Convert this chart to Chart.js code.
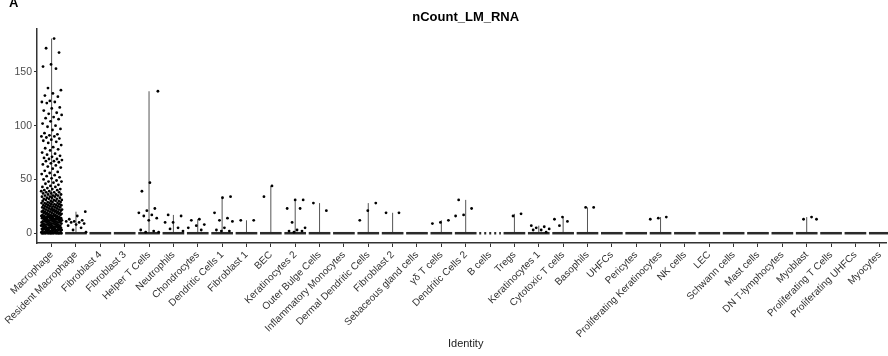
<!DOCTYPE html>
<html>
<head>
<meta charset="utf-8">
<script src="https://cdn.jsdelivr.net/npm/chart.js@4.4.1/dist/chart.umd.min.js"></script>
<style>
html, body { margin: 0; padding: 0; background: #fff; }
</style>
</head>
<body>
<canvas id="vln" width="888" height="356"></canvas>
<script>
// Categorias del eje x (Identity)
const identities = [
  'Macrophage', 'Resident Macrophage', 'Fibroblast 4', 'Fibroblast 3', 'Helper T Cells',
  'Neutrophils', 'Chondrocytes', 'Dendritic Cells 1', 'Fibroblast 1', 'BEC',
  'Keratinocytes 2', 'Outer Bulge Cells', 'Inflammatory Monocytes', 'Dermal Dendritic Cells', 'Fibroblast 2',
  'Sebaceous gland cells', 'γδ T cells', 'Dendritic Cells 2', 'B cells', 'Tregs',
  'Keratinocytes 1', 'Cytotoxic T cells', 'Basophils', 'UHFCs', 'Pericytes',
  'Proliferating Keratinocytes', 'NK cells', 'LEC', 'Schwann cells', 'Mast cells',
  'DN T-lymphocytes', 'Myoblast', 'Proliferating T Cells', 'Proliferating UHFCs', 'Myocytes'
];

const yTickValues = [0, 50, 100, 150];

// nCount_LM_RNA por celula
const macrophageCounts = [
  181, 172, 168, 157, 155, 153, 135, 133, 130, 128, 127, 123, 122, 122, 121, 117, 116, 114, 112, 111,
  110, 108, 107, 106, 104, 102, 100, 99, 97, 96, 93, 92, 91, 90, 90, 89, 88, 87, 86, 85,
  84, 82, 80, 79, 78, 77, 75, 74, 73, 72, 71, 70, 69, 69, 68, 67, 67, 66, 65, 64,
  63, 62, 61, 60, 58, 57, 56, 55, 54, 53, 52, 51, 50, 49, 48, 48, 47, 46, 45, 44,
  43, 43, 42, 41, 41, 40, 40, 39, 39, 38, 38, 38, 37, 37, 36, 36, 36, 35, 35, 35,
  34, 34, 34, 33, 33, 33, 32, 32, 32, 31, 31, 31, 30, 30, 30, 30, 29, 29, 29, 28,
  28, 28, 28, 27, 27, 27, 27, 26, 26, 26, 26, 25, 25, 25, 25, 24, 24, 24, 24, 23,
  23, 23, 23, 22, 22, 22, 22, 22, 21, 21, 21, 21, 21, 20, 20, 20, 20, 20, 19, 19,
  19, 19, 19, 18, 18, 18, 18, 18, 17, 17, 17, 17, 17, 16, 16, 16, 16, 16, 16, 15,
  15, 15, 15, 15, 15, 14, 14, 14, 14, 14, 14, 13, 13, 13, 13, 13, 13, 12, 12, 12,
  12, 12, 12, 11, 11, 11, 11, 11, 11, 10, 10, 10, 10, 10, 10, 9, 9, 9, 9, 9,
  9, 8, 8, 8, 8, 8, 8, 7, 7, 7, 7, 7, 7, 6, 6, 6, 6, 6, 6, 5,
  5, 5, 5, 5, 5, 4, 4, 4, 4, 4, 4, 3, 3, 3, 3, 3, 3, 2, 2, 2,
  2, 2, 2, 1, 1, 1, 1, 1, 1, 0, 0, 0, 0, 0, 0, 0, 0, 0, 0, 0
];
const residentMacrophageCounts = [20, 16, 13, 12, 11, 11, 10, 10, 9, 8, 7, 5, 3, 1];
const helperTCounts = [132, 47, 39, 23, 21, 19, 17, 16, 14, 12, 3, 2, 1, 1];
const neutrophilCounts = [17, 16, 10, 10, 5, 4, 2];
const chondrocyteCounts = [13, 12, 8, 7, 5, 3];
const dendritic1Counts = [34, 33, 19, 14, 12, 11, 5, 3, 2, 2];
const fibroblast1Counts = [12, 12];
const becCounts = [44, 34];
const keratinocytes2Counts = [31, 31, 23, 23, 10, 5, 3, 2, 2, 1];
const outerBulgeCounts = [28, 21];
const dermalDendriticCounts = [28, 21, 12];
const fibroblast2Counts = [19, 19];
const gdTCounts = [12, 10, 9];
const dendritic2Counts = [31, 23, 17, 16];
const tregCounts = [18, 16];
const keratinocytes1Counts = [7, 6, 5, 4, 3, 3, 1];
const cytotoxicTCounts = [15, 13, 11, 7];
const basophilCounts = [24, 24];
const prolifKeratinocyteCounts = [15, 14, 13];
const myoblastCounts = [15, 13, 13];

const countsByIdentity = {
  'Macrophage': macrophageCounts,
  'Resident Macrophage': residentMacrophageCounts,
  'Helper T Cells': helperTCounts,
  'Neutrophils': neutrophilCounts,
  'Chondrocytes': chondrocyteCounts,
  'Dendritic Cells 1': dendritic1Counts,
  'Fibroblast 1': fibroblast1Counts,
  'BEC': becCounts,
  'Keratinocytes 2': keratinocytes2Counts,
  'Outer Bulge Cells': outerBulgeCounts,
  'Dermal Dendritic Cells': dermalDendriticCounts,
  'Fibroblast 2': fibroblast2Counts,
  'γδ T cells': gdTCounts,
  'Dendritic Cells 2': dendritic2Counts,
  'Tregs': tregCounts,
  'Keratinocytes 1': keratinocytes1Counts,
  'Cytotoxic T cells': cytotoxicTCounts,
  'Basophils': basophilCounts,
  'Proliferating Keratinocytes': prolifKeratinocyteCounts,
  'Myoblast': myoblastCounts
};

// desplazamiento horizontal fijo (jitter) para que los puntos no se tapen
function jitter(k) {
  return (((k + 1) * 0.6180339887) % 1 - 0.5) * 0.86;
}

var puntos = [];
identities.forEach(function (name, i) {
  (countsByIdentity[name] || []).forEach(function (v, k) {
    puntos.push({ x: i + 1 + jitter(k + i * 7), y: v });
  });
});

// Plugin: violines (barra en cero + linea hasta el maximo)
const violinPlugin = {
  id: 'violines',
  beforeDatasetsDraw: function (chart) {
    var c = chart.ctx;
    var xs = chart.scales.x, ys = chart.scales.y;
    var y0 = ys.getPixelForValue(0);
    c.save();
    identities.forEach(function (name, i) {
      var vals = countsByIdentity[name] || [];
      var maxV = vals.length ? Math.max.apply(null, vals) : 0;
      var xc = xs.getPixelForValue(i + 1);
      if (maxV > 0) {
        c.beginPath();
        c.strokeStyle = '#555';
        c.lineWidth = 1;
        c.moveTo(xc, y0);
        c.lineTo(xc, ys.getPixelForValue(maxV));
        c.stroke();
      }
      c.beginPath();
      c.strokeStyle = '#2a2a2a';
      c.lineWidth = 2.5;
      c.setLineDash(name === 'B cells' ? [2, 3] : []);
      c.moveTo(xs.getPixelForValue(i + 1 - 0.445), y0);
      c.lineTo(xs.getPixelForValue(i + 1 + 0.445), y0);
      c.stroke();
      c.setLineDash([]);
    });
    c.restore();
  },
  afterDraw: function (chart) {
    var c = chart.ctx;
    var xs = chart.scales.x;
    c.save();
    c.fillStyle = '#000';
    c.textAlign = 'center';
    c.textBaseline = 'alphabetic';
    c.font = 'bold 13px "Liberation Sans", Arial, sans-serif';
    c.fillText('nCount_LM_RNA', xs.getPixelForValue(18), 21);
    c.font = '11px "Liberation Sans", Arial, sans-serif';
    c.fillStyle = '#222';
    c.fillText('Identity', xs.getPixelForValue(18), 347);
    c.textAlign = 'left';
    c.fillStyle = '#000';
    c.font = 'bold 13px "Liberation Sans", Arial, sans-serif';
    c.fillText('A', 9, 7);
    c.restore();
  }
};

var ctx = document.getElementById('vln').getContext('2d');
var grafico = new Chart(ctx, {
  type: 'scatter',
  data: {
    datasets: [{
      label: 'nCount_LM_RNA',
      data: puntos,
      pointRadius: 1.4,
      pointHoverRadius: 1.4,
      pointBorderWidth: 0,
      backgroundColor: '#000',
      borderColor: '#000'
    }]
  },
  options: {
    responsive: false,
    animation: false,
    devicePixelRatio: 1,
    layout: { padding: { top: 29, right: 0, bottom: 0, left: 0 } },
    plugins: {
      legend: { display: false },
      tooltip: { enabled: false }
    },
    scales: {
      x: {
        type: 'linear',
        min: 0.4,
        max: 35.28,
        afterBuildTicks: function (scale) {
          scale.ticks = identities.map(function (n, i) { return { value: i + 1 }; });
        },
        afterFit: function (scale) {
          scale.height = 113;
          scale.paddingLeft = 0;
          scale.paddingRight = 0;
        },
        ticks: {
          autoSkip: false,
          minRotation: 45,
          maxRotation: 45,
          padding: 2,
          color: '#333',
          font: { family: '"Liberation Sans", Arial, sans-serif', size: 10 },
          callback: function (v) { return identities[Math.round(v) - 1]; }
        },
        grid: { display: true, drawOnChartArea: false, drawTicks: true, tickLength: 4, tickColor: '#333', tickWidth: 1 },
        border: { display: true, color: '#333', width: 1.5 }
      },
      y: {
        min: -9.1,
        max: 189.9,
        afterBuildTicks: function (scale) {
          scale.ticks = yTickValues.map(function (v) { return { value: v }; });
        },
        afterFit: function (scale) {
          scale.width = 37;
          scale.paddingTop = 0;
          scale.paddingBottom = 0;
        },
        ticks: {
          padding: 2,
          color: '#4d4d4d',
          font: { family: '"Liberation Sans", Arial, sans-serif', size: 10.5 }
        },
        grid: { display: true, drawOnChartArea: false, drawTicks: true, tickLength: 3, tickColor: '#333', tickWidth: 1 },
        border: { display: true, color: '#333', width: 1.5 }
      }
    }
  },
  plugins: [violinPlugin]
});
</script>
</body>
</html>
